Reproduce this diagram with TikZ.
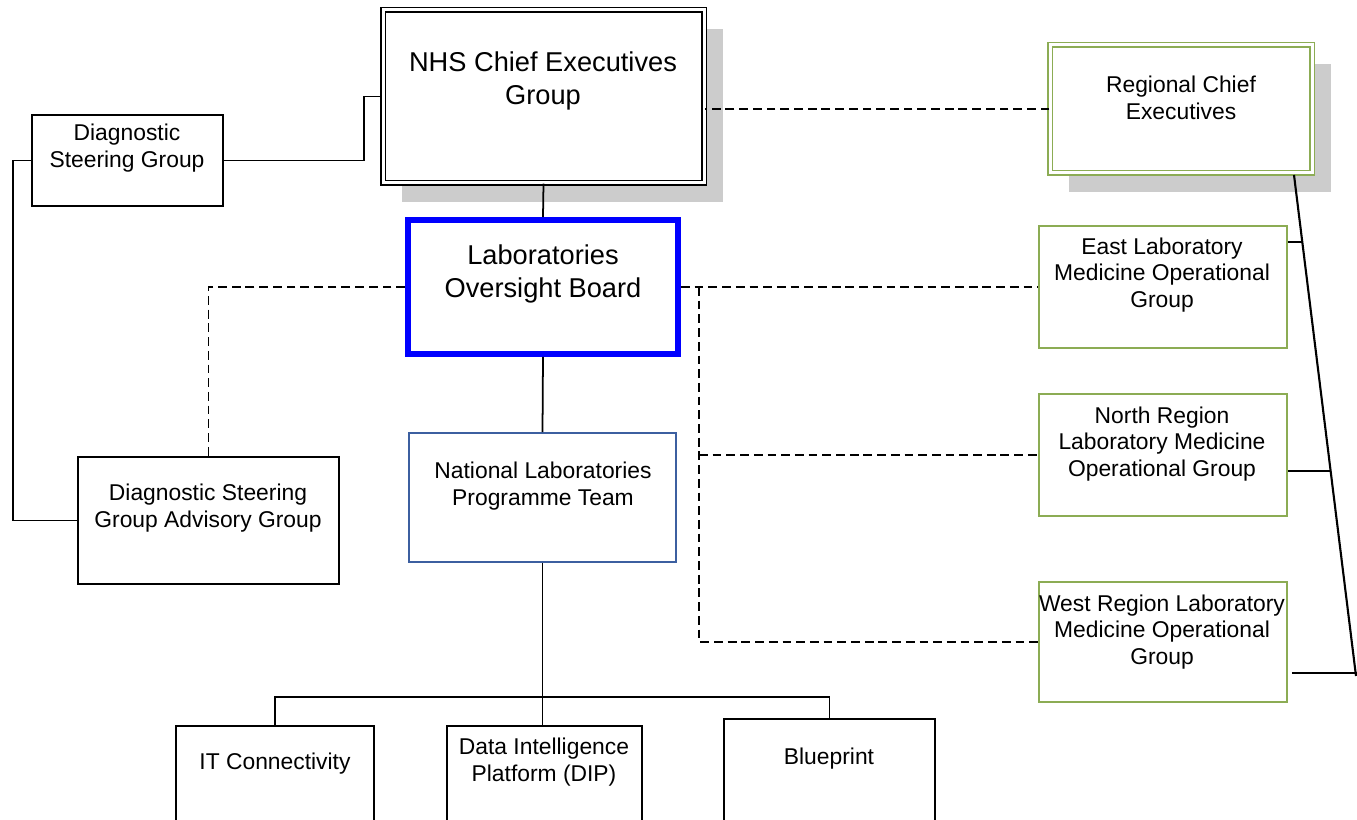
\documentclass[tikz,border=0pt]{standalone}
\usepackage{fontspec}
\setmainfont{Liberation Sans}
\usetikzlibrary{shadows}

\definecolor{boxgreen}{RGB}{140,172,84}
\definecolor{teamblue}{RGB}{60,95,160}
\definecolor{shadowgray}{RGB}{204,204,204}

\newcommand\px{0.02cm}

\begin{document}
\begin{tikzpicture}[x=0.02cm, y=-0.02cm]
    % Define display styles
    \tikzstyle{box}=[draw, rectangle, line width=0.9pt, inner sep=0pt, fill=white]
    \tikzstyle{greenbox}=[box, draw=boxgreen]
    \tikzstyle{doublebox}=[box, line width=0.6pt, double=white, double distance=0.06cm]
    \tikzstyle{shadowed}=[drop shadow={shadow xshift=0.38cm, shadow yshift=-0.38cm, fill=shadowgray, opacity=1}]
    \tikzstyle{txt}=[align=center, inner sep=0pt, font=\fontsize{13}{15.1}\selectfont]
    \tikzstyle{bigtxt}=[align=center, inner sep=0pt, font=\fontsize{15.5}{18.8}\selectfont]
    \tikzstyle{link}=[line width=1pt]
    \tikzstyle{dashlink}=[line width=1pt, dash pattern=on 5pt off 2.8pt]
    \tikzset{sized/.style 2 args={minimum width=#1*\px, minimum height=#2*\px}}

    % Fix the page
    \useasboundingbox (0,0) rectangle (1357,820);

    % Top level
    \node[doublebox, shadowed, sized={321}{173}] (nhs) at (543.5,96.5) {};
    \node[bigtxt] (nhs-t) at (543,81) {NHS Chief Executives\\Group};

    \node[doublebox, draw=boxgreen, shadowed, sized={262}{128}] (rce) at (1181,109) {};
    \node[txt] (rce-t) at (1181,98) {Regional Chief\\Executives};

    \node[box, sized={191}{91}] (dsg) at (127.5,160.5) {};
    \node[txt] (dsg-t) at (127,148) {Diagnostic\\Steering Group};

    % Oversight board and team
    \node[box, draw=blue, line width=3.4pt, sized={270}{134}] (lob) at (543,287) {};
    \node[bigtxt] (lob-t) at (543,274) {Laboratories\\Oversight Board};

    \node[box, sized={261}{127}] (dsgag) at (208.5,520.5) {};
    \node[txt] (dsgag-t) at (208,508) {Diagnostic Steering\\Group Advisory Group};

    \node[box, draw=teamblue, sized={267}{129}] (nlpt) at (542.5,497.5) {};
    \node[txt] (nlpt-t) at (543,486) {National Laboratories\\Programme Team};

    % Regional operational groups
    \node[greenbox, sized={248}{122}] (east) at (1163,287) {};
    \node[txt] (east-t) at (1162,275) {East Laboratory\\Medicine Operational\\Group};

    \node[greenbox, sized={248}{122}] (north) at (1163,455) {};
    \node[txt] (north-t) at (1162,444) {North Region\\Laboratory Medicine\\Operational Group};

    \node[greenbox, sized={248}{120}] (west) at (1163,642) {};
    \node[txt] (west-t) at (1162,632) {West Region Laboratory\\Medicine Operational\\Group};

    % Workstreams (cut off at the bottom)
    \node[box, sized={198}{104}] (it) at (275,778) {};
    \node[txt] (it-t) at (275,764) {IT Connectivity};

    \node[box, sized={195}{104}] (dip) at (544.5,778) {};
    \node[txt] (dip-t) at (544,762) {Data Intelligence\\Platform (DIP)};

    \node[box, sized={211}{111}] (bp) at (829.5,774.5) {};
    \node[txt] (bp-t) at (829,759) {Blueprint};

    % Solid connectors
    \draw[link] (dsg.east) -- ++(140,0) |- (nhs.west);
    \draw[link] (dsg.west) -- ++(-18,0) |- (dsgag.west);
    \draw[link] (nhs.south) -- (lob.north);
    \draw[link] (lob.south) -- (nlpt.north);
    \draw[link] (nlpt.south) -- (nlpt.south |- dip.north);
    \draw[link] (it.north) -- ++(0,-28) -| (bp.north);

    % Dashed connectors
    \coordinate (tap) at (699,287);
    \draw[dashlink] (rce.west) -- (rce.west -| nhs.east);
    \draw[dashlink] (lob.west) -| (dsgag.north);
    \draw[dashlink] (lob.east) -- (east.west);
    \draw[dashlink] (tap) |- (west.west);
    \draw[dashlink] (tap |- north.west) -- (north.west);

    % Regional line on the right
    \coordinate (rtop) at (1294,175);
    \coordinate (rbot) at (1356,676);
    \draw[line width=1.2pt] (rtop) -- (rbot);
    \draw[line width=1.5pt] ([yshift=45*\px]east.east) -- ++(15,0);
    \draw[link] ([yshift=-16*\px]north.east) -- ++(42,0);
    \draw[line width=1.7pt] ([yshift=-31*\px]west.east) ++(4,0) -- ++(66,0);
\end{tikzpicture}
\end{document}
